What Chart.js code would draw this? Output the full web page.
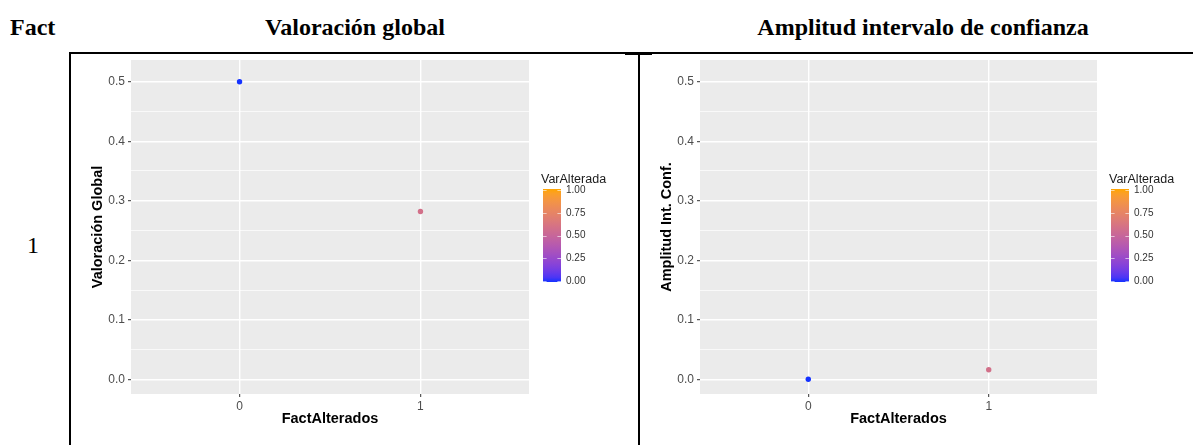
<!DOCTYPE html>
<html lang="es">
<head>
<meta charset="utf-8">
<title>Valoración global y amplitud del intervalo de confianza</title>
<script src="https://cdn.jsdelivr.net/npm/chart.js@4.4.0/dist/chart.umd.min.js"></script>
<style>
  html, body { margin: 0; padding: 0; background: #fff; }
  body { width: 1196px; height: 445px; position: relative; overflow: hidden;
         font-family: "Liberation Serif", "Times New Roman", serif; color: #000; }
  .hdr { position: absolute; top: 12px; font-weight: bold; font-size: 24px; line-height: 30px; white-space: nowrap; }
  .cell { position: absolute; font-size: 24px; line-height: 30px; }
  .rule { position: absolute; background: #000; }
  canvas { position: absolute; top: 54px; }
</style>
</head>
<body>
<div class="hdr" style="left:10px">Fact</div>
<div class="hdr" style="left:205px;width:300px;text-align:center">Valoración global</div>
<div class="hdr" style="left:723px;width:400px;text-align:center">Amplitud intervalo de confianza</div>
<div class="cell" style="left:27px;top:230px">1</div>

<div class="rule" style="left:69px;top:52px;width:1124px;height:2px"></div>
<div class="rule" style="left:625px;top:52px;width:27px;height:3px"></div>
<div class="rule" style="left:69px;top:52px;width:2px;height:393px"></div>
<div class="rule" style="left:638px;top:52px;width:2px;height:393px"></div>

<canvas id="chartValoracion" width="566" height="391" style="left:71px"></canvas>
<canvas id="chartAmplitud" width="556" height="391" style="left:640px"></canvas>

<script>
// Observations: number of altered facts, the altered-variable share, and the two measures
const factAlterados = [0, 1];
const xTickLabels = ['0', '1'];
const varAlterada = [0, 0.58];
const valoracionGlobal = [0.5, 0.282];
const amplitudIntConf = [0, 0.016];

// Value axis ticks (labelled majors, unlabelled minors)
const yMajorTicks = [0, 0.1, 0.2, 0.3, 0.4, 0.5];
const yMajorLabels = ['0.0', '0.1', '0.2', '0.3', '0.4', '0.5'];
const yMinorTicks = [0.05, 0.15, 0.25, 0.35, 0.45];

// Colour bar ticks
const legendTicks = [0, 0.25, 0.5, 0.75, 1];
const legendLabels = ['0.00', '0.25', '0.50', '0.75', '1.00'];

const SANS = '"Liberation Sans", Arial, Helvetica, sans-serif';
const LOW_COLOUR = [20, 50, 255];   // blue
const HIGH_COLOUR = [255, 165, 0];  // orange

// --- gradient interpolated in CIE Lab space ---
function toLinear(c) { c /= 255; return c <= 0.04045 ? c / 12.92 : Math.pow((c + 0.055) / 1.055, 2.4); }
function toSrgb(c) {
  c = c <= 0.0031308 ? 12.92 * c : 1.055 * Math.pow(c, 1 / 2.4) - 0.055;
  return Math.round(Math.max(0, Math.min(1, c)) * 255);
}
const WHITE = [0.95047, 1, 1.08883];
function rgbToLab(rgb) {
  const [r, g, b] = rgb.map(toLinear);
  const xyz = [
    (0.4124 * r + 0.3576 * g + 0.1805 * b) / WHITE[0],
    (0.2126 * r + 0.7152 * g + 0.0722 * b) / WHITE[1],
    (0.0193 * r + 0.1192 * g + 0.9505 * b) / WHITE[2]
  ];
  const f = t => t > 0.008856 ? Math.cbrt(t) : 7.787 * t + 16 / 116;
  const [fx, fy, fz] = xyz.map(f);
  return [116 * fy - 16, 500 * (fx - fy), 200 * (fy - fz)];
}
function labToRgb(lab) {
  const fy = (lab[0] + 16) / 116, fx = fy + lab[1] / 500, fz = fy - lab[2] / 200;
  const inv = t => t * t * t > 0.008856 ? t * t * t : (t - 16 / 116) / 7.787;
  const X = inv(fx) * WHITE[0], Y = inv(fy) * WHITE[1], Z = inv(fz) * WHITE[2];
  const r = 3.2406 * X - 1.5372 * Y - 0.4986 * Z;
  const g = -0.9689 * X + 1.8758 * Y + 0.0415 * Z;
  const b = 0.0557 * X - 0.2040 * Y + 1.0570 * Z;
  return [toSrgb(r), toSrgb(g), toSrgb(b)];
}
const LAB_LOW = rgbToLab(LOW_COLOUR), LAB_HIGH = rgbToLab(HIGH_COLOUR);
function colourAt(t) {
  const lab = LAB_LOW.map((v, i) => v + (LAB_HIGH[i] - v) * t);
  const [r, g, b] = labToRgb(lab);
  return `rgb(${r},${g},${b})`;
}

// Grey panel behind the plotting area
const panelBackground = {
  id: 'panelBackground',
  beforeDraw(chart) {
    const { ctx, chartArea: a } = chart;
    ctx.save();
    ctx.fillStyle = '#EBEBEB';
    ctx.fillRect(a.left, a.top, a.right - a.left, a.bottom - a.top);
    ctx.restore();
  }
};

// Continuous colour legend for VarAlterada
const colourBar = {
  id: 'colourBar',
  afterDraw(chart) {
    const { ctx, chartArea: a } = chart;
    const cy = (a.top + a.bottom) / 2 + 2;
    const x0 = a.right + 14, w = 18;
    const top = cy - 40, bottom = cy + 53;
    const yAt = v => (bottom - 1) - v * (bottom - top - 2);
    ctx.save();
    const grad = ctx.createLinearGradient(0, bottom, 0, top);
    for (let i = 0; i <= 20; i++) grad.addColorStop(i / 20, colourAt(i / 20));
    ctx.fillStyle = grad;
    ctx.fillRect(x0, top, w, bottom - top);

    ctx.strokeStyle = 'rgba(255,255,255,0.75)';
    ctx.lineWidth = 0.8;
    legendTicks.forEach(v => {
      const y = Math.round(yAt(v)) + 0.5;
      ctx.beginPath();
      ctx.moveTo(x0, y); ctx.lineTo(x0 + 3.6, y);
      ctx.moveTo(x0 + w - 3.6, y); ctx.lineTo(x0 + w, y);
      ctx.stroke();
    });

    ctx.fillStyle = '#333';
    ctx.font = `10px ${SANS}`;
    ctx.textAlign = 'left';
    ctx.textBaseline = 'middle';
    legendTicks.forEach((v, i) => ctx.fillText(legendLabels[i], x0 + w + 5, yAt(v)));

    ctx.fillStyle = '#1A1A1A';
    ctx.font = `12.5px ${SANS}`;
    ctx.fillText('VarAlterada', x0 - 2, cy - 49);
    ctx.restore();
  }
};

const isMajor = v => yMajorTicks.some(t => Math.abs(t - v) < 1e-9);

function makeChart(canvasId, yValues, yTitle, rightPad) {
  const points = factAlterados.map((x, i) => ({ x, y: yValues[i] }));
  return new Chart(document.getElementById(canvasId), {
    type: 'scatter',
    data: {
      datasets: [{
        data: points,
        pointBackgroundColor: varAlterada.map(colourAt),
        pointBorderWidth: 0,
        pointRadius: 2.7,
        pointHoverRadius: 2.7
      }]
    },
    options: {
      responsive: false,
      animation: false,
      events: [],
      layout: { autoPadding: false, padding: { left: 0, top: 6, right: rightPad, bottom: 0 } },
      plugins: { legend: { display: false }, tooltip: { enabled: false } },
      scales: {
        x: {
          type: 'linear',
          min: -0.6,
          max: 1.6,
          afterBuildTicks: s => { s.ticks = factAlterados.map(v => ({ value: v })); },
          afterFit: s => { s.height = 51; s.paddingLeft = 0; s.paddingRight = 0; },
          border: { display: false },
          grid: { color: '#FFFFFF', lineWidth: 1.4, tickColor: '#333333', tickLength: 3, tickWidth: 1 },
          ticks: {
            autoSkip: false, maxRotation: 0, padding: 2, color: '#4D4D4D',
            font: { family: SANS, size: 12 },
            callback: v => xTickLabels[factAlterados.indexOf(v)]
          },
          title: {
            display: true, text: 'FactAlterados', color: '#000',
            font: { family: SANS, size: 14.5, weight: 'bold' },
            padding: { top: 0, bottom: 17 }
          }
        },
        y: {
          type: 'linear',
          min: -0.0247,
          max: 0.5365,
          afterBuildTicks: s => {
            s.ticks = yMajorTicks.concat(yMinorTicks).sort((a, b) => a - b).map(v => ({ value: v }));
          },
          afterFit: s => { s.width = 60; s.paddingTop = 0; s.paddingBottom = 0; },
          border: { display: false },
          grid: {
            color: '#FFFFFF',
            lineWidth: c => (c.tick && isMajor(c.tick.value)) ? 1.4 : 0.7,
            tickColor: c => (c.tick && isMajor(c.tick.value)) ? '#333333' : 'rgba(0,0,0,0)',
            tickLength: 3,
            tickWidth: 1
          },
          ticks: {
            autoSkip: false, padding: 3, color: '#4D4D4D',
            font: { family: SANS, size: 12 },
            callback: v => {
              const i = yMajorTicks.findIndex(t => Math.abs(t - v) < 1e-9);
              return i >= 0 ? yMajorLabels[i] : '';
            }
          },
          title: {
            display: true, text: yTitle, color: '#000',
            font: { family: SANS, size: 14.5, weight: 'bold' },
            padding: { top: 18, bottom: 0 }
          }
        }
      }
    },
    plugins: [panelBackground, colourBar]
  });
}

makeChart('chartValoracion', valoracionGlobal, 'Valoración Global', 108);
makeChart('chartAmplitud', amplitudIntConf, 'Amplitud Int. Conf.', 99);
</script>
</body>
</html>
